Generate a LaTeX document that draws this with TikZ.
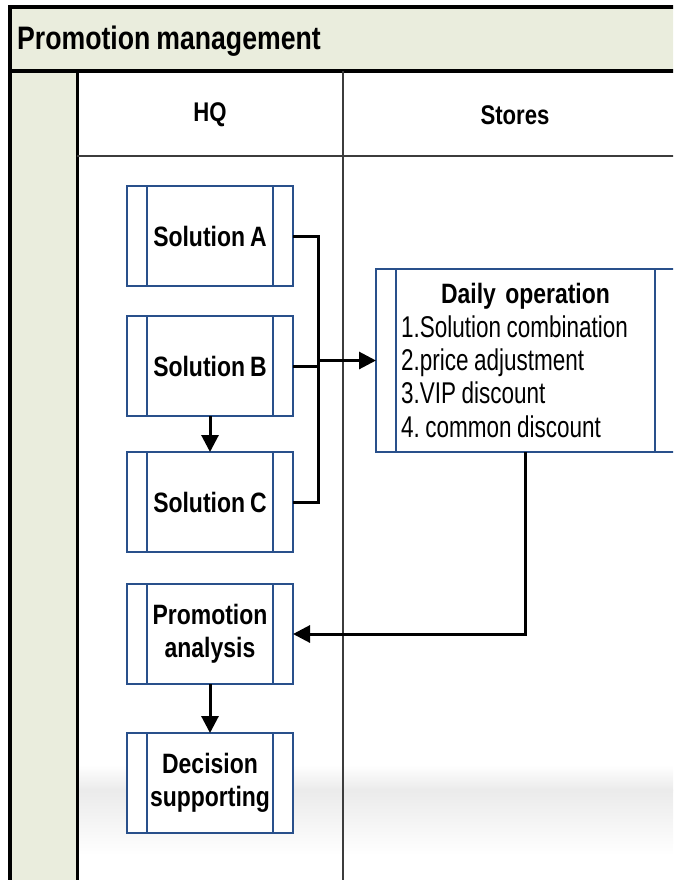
\documentclass[tikz,border=0pt]{standalone}
\usepackage{fontspec}
\setmainfont{Liberation Sans}[FakeStretch=0.82, WordSpace=0.8]
\newfontfamily\listfont{Liberation Sans}[FakeStretch=0.75]
\usepackage{xcolor}
\usetikzlibrary{arrows.meta, positioning}

\definecolor{lanegreen}{RGB}{234,237,221}
\definecolor{boxblue}{RGB}{41,80,139}
\definecolor{rulegray}{RGB}{60,60,60}
\frenchspacing

\begin{document}
\begin{tikzpicture}[
  x=1pt, y=-1pt,
  proc/.style={draw=boxblue, line width=2.5pt, fill=white, minimum width=166pt,
               minimum height=100pt, inner sep=0pt, outer sep=0pt, align=center,
               font=\fontsize{28}{33}\selectfont\bfseries,
               path picture={\draw[boxblue, line width=2.5pt]
                 ([xshift=20pt]path picture bounding box.north west) -- ([xshift=20pt]path picture bounding box.south west)
                 ([xshift=-20pt]path picture bounding box.north east) -- ([xshift=-20pt]path picture bounding box.south east);}},
  lanehead/.style={inner sep=0pt, font=\fontsize{27}{30}\selectfont\bfseries},
  conn/.style={line width=3pt},
  arr/.style={-{Triangle[length=17pt, width=17pt]}, line width=3pt}
]
  \useasboundingbox (0,0) rectangle (673,880);
  \clip (0,0) rectangle (673,880);

  % pool and lanes
  \fill[white] (0,0) rectangle (673,880);
  \fill[lanegreen] (10,7) rectangle (690,71);
  \fill[lanegreen] (10,71) rectangle (77,890);
  \shade[top color=white, bottom color=black!8] (78,765) rectangle (690,790);
  \shade[top color=black!8, bottom color=white] (78,790) rectangle (690,855);
  \draw[line width=3.5pt] (690,7) -- (10,7) -- (10,890);
  \draw[line width=3.5pt] (10,71) -- (690,71);
  \draw[line width=3pt] (77,71) -- (77,890);
  \draw[rulegray, line width=1.5pt] (343,71) -- (343,890);
  \draw[rulegray, line width=1.5pt] (77,156) -- (690,156);

  \node[anchor=base west, inner sep=0pt, font=\fontsize{32.5}{36}\selectfont\bfseries] (title) at (17,50) {Promotion management};
  \node[lanehead] (hq) at (210,115) {HQ};
  \node[lanehead] (stores) at (515,115) {Stores};

  % HQ steps
  \node[proc] (solA) at (210,236) {Solution A};
  \node[proc, below=30pt of solA] (solB) {Solution B};
  \node[proc, below=36pt of solB] (solC) {Solution C};
  \node[proc, below=32pt of solC] (anal) {Promotion\\analysis};
  \node[proc, below=49pt of anal] (dec) {Decision\\supporting};

  % store step
  \node[proc, minimum width=299pt, minimum height=183pt, text width=249pt,
        align=left, font=\fontsize{28}{33.3}\selectfont] (daily) at (525.5,360.5)
    {\makebox[249pt]{\bfseries Daily operation}\\
     {\listfont\fontsize{30}{33.3}\selectfont\spaceskip=5.5pt 1.Solution combination\\
     2.price adjustment\\
     3.VIP discount\\
     4. common discount}};

  \coordinate (bus) at (318,360.5);
  \draw[conn] (solA.east) -| (bus) |- (solC.east);
  \draw[conn] (solB.east) -- (solB.east -| bus);
  \draw[arr] (bus) -- (daily.west);
  \draw[arr] (solB) -- (solC);
  \draw[arr] (daily.south) |- (anal.east);
  \draw[arr] (anal) -- (dec);
\end{tikzpicture}
\end{document}
